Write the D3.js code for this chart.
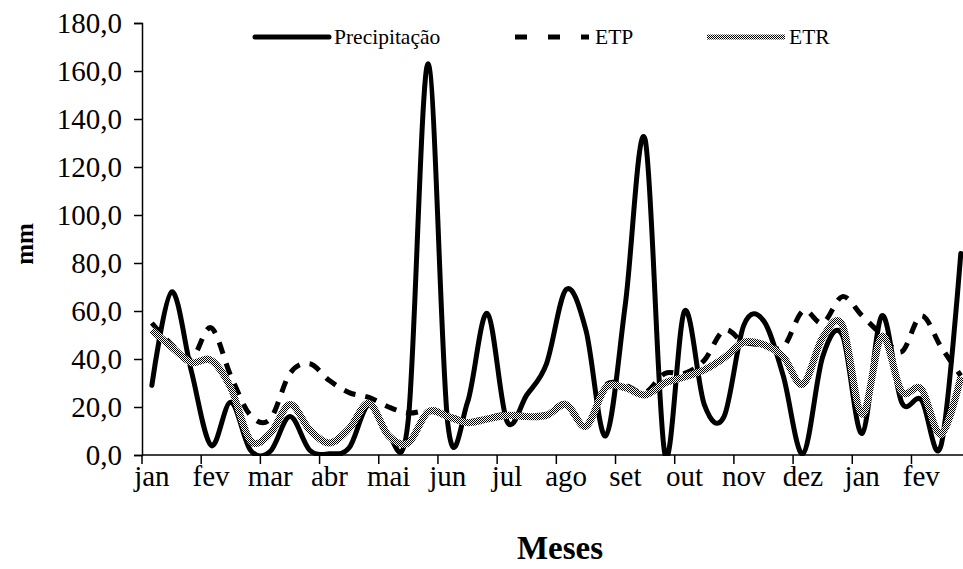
<!DOCTYPE html>
<html>
<head>
<meta charset="utf-8">
<script src="https://cdn.jsdelivr.net/npm/d3@7/dist/d3.min.js"></script>
<style>
  html, body { margin: 0; padding: 0; background: #fff; }
  svg { display: block; }
  text { font-family: "Liberation Serif", "Times New Roman", serif; fill: #000; }
</style>
</head>
<body>
<svg id="chart" width="963" height="569"></svg>
<script>
// Ten-day periods (three per month), from January to February of the following year
const months = ["jan", "fev", "mar", "abr", "mai", "jun", "jul", "ago", "set", "out", "nov", "dez", "jan", "fev"];

const precipitacao = [29, 68, 35, 4, 22, 2, 1.5, 16, 2, 0.5,
  3, 21, 8, 15, 163, 13, 22, 59, 14, 25,
  38, 69, 52, 8, 63, 131.5, 0.5, 60, 21, 16,
  54, 56, 33, 0.5, 41, 50, 9, 58, 22, 23,
  4, 84];

const etp = [55, 46, 40, 53, 33, 16.5, 15, 34, 38, 31,
  26, 24, 20, 17.5, 18.5, 16.5, 14, 15.5, 17, 16.5,
  17, 21.5, 12.5, 29, 29, 26, 34, 34, 39.5, 52,
  47, 46, 45, 60, 55, 66, 58, 50, 43, 58,
  45, 33];

const etr = [52, 45, 38.5, 39.5, 28, 6, 9, 21, 10.5, 5,
  11, 21.5, 8, 5, 18, 16, 13.5, 15, 16.5, 16,
  16.5, 21, 12, 28, 28, 25, 30, 32.5, 35.5, 40.5,
  47, 46, 41, 29.5, 49, 54, 17, 49.5, 26.5, 27.5,
  8.5, 32.5];

const yTickValues = [0, 20, 40, 60, 80, 100, 120, 140, 160, 180];

const svg = d3.select("#chart");
const plotLeft = 142, plotBottom = 455, plotTop = 23;
const periodWidth = 19.73;
const plotRight = plotLeft + periodWidth * precipitacao.length;

const periods = d3.range(precipitacao.length);
const x = d3.scaleBand().domain(periods).range([plotLeft, plotRight]).padding(0);
const xMonth = d3.scaleBand().domain(d3.range(months.length)).range([plotLeft, plotRight]).padding(0);
const y = d3.scaleLinear().domain([0, 180]).range([plotBottom, plotTop]);
const fmt = v => d3.format(".1f")(v).replace(".", ",");

const defs = svg.append("defs");
// checkered fill used for the ETR stroke
const pat = defs.append("pattern").attr("id", "checker")
  .attr("width", 2).attr("height", 2).attr("patternUnits", "userSpaceOnUse");
pat.append("rect").attr("width", 2).attr("height", 2).attr("fill", "#fff");
pat.append("rect").attr("width", 1).attr("height", 1).attr("fill", "#000");
pat.append("rect").attr("x", 1).attr("y", 1).attr("width", 1).attr("height", 1).attr("fill", "#000");
// series are clipped to the plot area
defs.append("clipPath").attr("id", "plot-clip").append("rect")
  .attr("x", plotLeft).attr("y", 0).attr("width", plotRight - plotLeft).attr("height", plotBottom + 1);

// y axis
const yAxis = d3.axisLeft(y).tickValues(yTickValues).tickFormat(fmt).tickSize(8).tickPadding(12);
const gy = svg.append("g").attr("transform", `translate(${plotLeft},0)`).call(yAxis);
gy.select(".domain").attr("stroke", "#000").attr("stroke-width", 1.5);
gy.selectAll(".tick line").attr("stroke", "#000").attr("stroke-width", 1.5);
gy.selectAll(".tick text").style("font-size", "29px").attr("dy", "0.34em");

// x axis: baseline, month ticks and labels centred on each month's first period
svg.append("line").attr("x1", plotLeft).attr("x2", 963).attr("y1", plotBottom).attr("y2", plotBottom)
  .attr("stroke", "#000").attr("stroke-width", 1.5);
svg.append("g").selectAll("line").data(d3.range(months.length)).join("line")
  .attr("x1", d => xMonth(d)).attr("x2", d => xMonth(d))
  .attr("y1", plotBottom).attr("y2", plotBottom + 9)
  .attr("stroke", "#000").attr("stroke-width", 1.5);
svg.append("g").selectAll("text").data(months).join("text")
  .attr("x", (d, i) => x(i * 3) + x.bandwidth() / 2)
  .attr("y", 486)
  .attr("text-anchor", "middle")
  .style("font-size", "29px")
  .text(d => d);

// axis titles
svg.append("text").attr("x", 560).attr("y", 559).attr("text-anchor", "middle")
  .style("font-size", "33px").style("font-weight", "bold").text("Meses");
svg.append("text").attr("transform", "translate(33,244) rotate(-90)").attr("text-anchor", "middle")
  .style("font-size", "25px").style("font-weight", "bold").text("mm");

// series, smoothed through every ten-day value
const line = d3.line()
  .x((d, i) => x(i) + x.bandwidth() / 2)
  .y(d => y(d))
  .curve(d3.curveCatmullRom.alpha(0));

const plot = svg.append("g").attr("clip-path", "url(#plot-clip)");
plot.append("path").datum(precipitacao).attr("d", line)
  .attr("fill", "none").attr("stroke", "#000").attr("stroke-width", 5)
  .attr("stroke-linejoin", "round").attr("stroke-linecap", "round");
plot.append("path").datum(etp).attr("d", line)
  .attr("fill", "none").attr("stroke", "#000").attr("stroke-width", 5)
  .attr("stroke-dasharray", "12,10");
plot.append("path").datum(etr).attr("d", line)
  .attr("fill", "none").attr("stroke", "url(#checker)").attr("stroke-width", 7)
  .attr("stroke-linejoin", "round");

// legend
const legend = svg.append("g");
legend.append("line").attr("x1", 255).attr("x2", 329).attr("y1", 37).attr("y2", 37)
  .attr("stroke", "#000").attr("stroke-width", 5).attr("stroke-linecap", "round");
legend.append("text").attr("x", 334).attr("y", 44).style("font-size", "21.5px").text("Precipitação");
legend.append("line").attr("x1", 515).attr("x2", 589).attr("y1", 37).attr("y2", 37)
  .attr("stroke", "#000").attr("stroke-width", 5).attr("stroke-dasharray", "12,21");
legend.append("text").attr("x", 595).attr("y", 44).style("font-size", "21.5px").text("ETP");
legend.append("line").attr("x1", 707).attr("x2", 785).attr("y1", 37).attr("y2", 37)
  .attr("stroke", "url(#checker)").attr("stroke-width", 5);
legend.append("text").attr("x", 789).attr("y", 44).style("font-size", "21.5px").text("ETR");
</script>
</body>
</html>
